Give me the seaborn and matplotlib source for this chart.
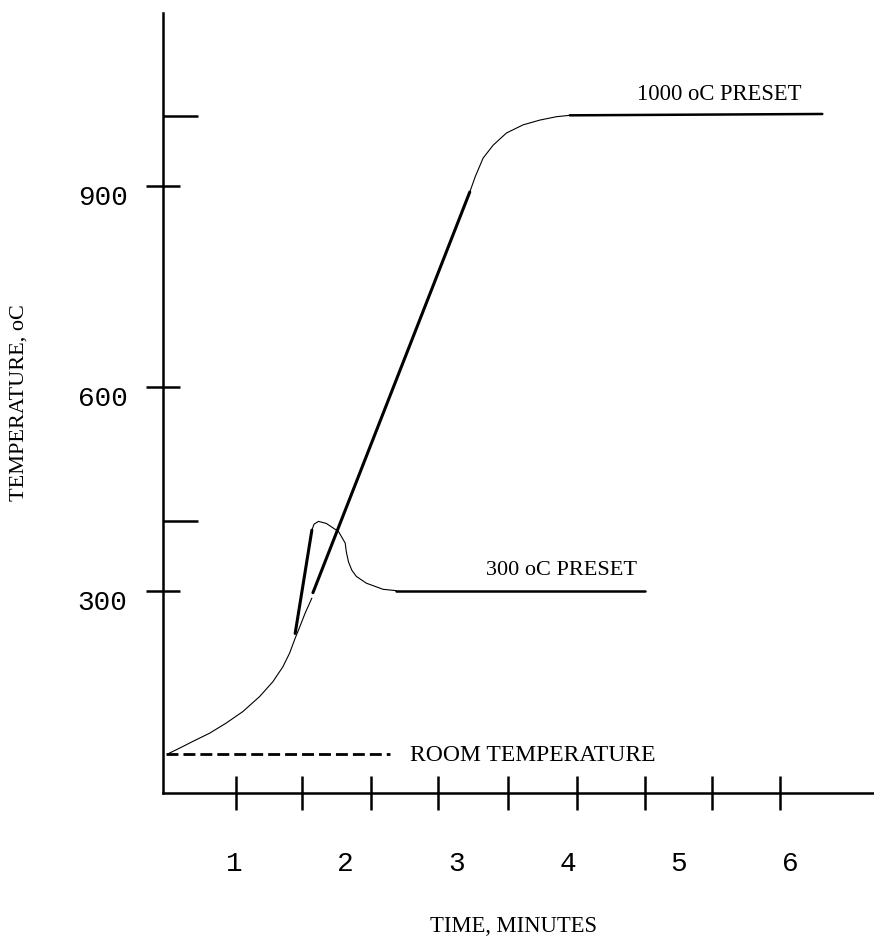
import matplotlib
matplotlib.use("Agg")
import matplotlib.pyplot as plt
import matplotlib.transforms as mtransforms
import seaborn as sns

# ---------------- data (time in minutes, temperature in oC) ----------------
warm_time = [0.41, 0.51, 0.63, 0.78, 0.93, 1.08, 1.23, 1.35, 1.44, 1.50, 1.55, 1.58, 1.64, 1.70]
warm_temp = [58, 66, 76, 88, 103, 120, 142, 164, 186, 206, 228, 240, 265, 287]

p300_rise_time = [1.55, 1.70]
p300_rise_temp = [235, 387]
p300_peak_time = [1.70, 1.72, 1.76, 1.83, 1.94, 2.00, 2.01, 2.03, 2.06, 2.10, 2.19, 2.34, 2.46]
p300_peak_temp = [387, 396, 400, 397, 385, 368, 355, 340, 328, 319, 309, 300, 298]
p300_hold_time = [2.46, 4.70]
p300_hold_temp = [298, 298]

p1000_ramp_time = [1.71, 3.12]
p1000_ramp_temp = [295, 885]
p1000_knee_time = [3.12, 3.17, 3.24, 3.33, 3.45, 3.60, 3.75, 3.90, 4.02]
p1000_knee_temp = [885, 908, 935, 954, 972, 984, 991, 996, 998]
p1000_hold_time = [4.02, 6.29]
p1000_hold_temp = [998, 1000]

room_time = [0.39, 2.40]
room_temp = [57, 57]

x_tick_marks = [1.02, 1.61, 2.23, 2.83, 3.46, 4.08, 4.70, 5.30, 5.91]
x_label_pos = [1, 2, 3, 4, 5, 6]
x_tick_labels = ["1", "2", "3", "4", "5", "6"]
y_tick_marks_cross = [298, 598, 894]
y_tick_labels = ["300", "600", "900"]
y_tick_marks_inner = [401, 997]

# ---------------- figure ----------------
sns.set_theme(style="white")
plt.rcParams["font.family"] = ["Liberation Serif", "DejaVu Serif"]
plt.rcParams["text.color"] = "black"
plt.rcParams["axes.labelcolor"] = "black"
plt.rcParams["xtick.color"] = "black"
plt.rcParams["ytick.color"] = "black"

fig = plt.figure(figsize=(8.74, 9.36), dpi=100)
ax = fig.add_axes([163 / 874, 1 - 793 / 936, 1 - 163 / 874, (793 - 13) / 936])

thin = 0.8
heavy = 2.2

def seg(x, y, lw, **kw):
    sns.lineplot(x=x, y=y, ax=ax, color="black", linewidth=lw, sort=False,
                 estimator=None, **kw)

seg(warm_time, warm_temp, thin)
seg(p300_rise_time, p300_rise_temp, heavy)
seg(p300_peak_time, p300_peak_temp, thin)
seg(p300_hold_time, p300_hold_temp, 1.8)
seg(p1000_ramp_time, p1000_ramp_temp, heavy)
seg(p1000_knee_time, p1000_knee_temp, thin)
seg(p1000_hold_time, p1000_hold_temp, 1.8)
ax.plot(room_time, room_temp, color="black", linewidth=2.0,
        linestyle=(0, (4.3, 1.8)))

ax.set_xlim(0.3615, 6.755)
ax.set_ylim(0, 1148.7)

# spines
for s in ["top", "right"]:
    ax.spines[s].set_visible(False)
for s in ["left", "bottom"]:
    ax.spines[s].set_color("black")
    ax.spines[s].set_linewidth(1.8)

# x ticks: labels at whole minutes, marks at drawn positions
ax.set_xticks(x_label_pos)
ax.set_xticklabels(x_tick_labels, family=["Liberation Mono", "DejaVu Sans Mono"],
                   fontsize=20, color="black")
ax.set_xticks(x_tick_marks, minor=True)
ax.tick_params(axis="x", which="major", length=0, pad=42, bottom=True)
ax.tick_params(axis="x", which="minor", direction="inout", length=24.5,
               width=1.8, color="black", bottom=True)

# y ticks
ax.set_yticks(y_tick_marks_cross)
ax.set_yticklabels(y_tick_labels, family=["Liberation Mono", "DejaVu Sans Mono"],
                   fontsize=20, color="black")
ax.set_yticks(y_tick_marks_inner, minor=True)
ax.tick_params(axis="y", which="major", direction="inout", length=25,
               width=1.8, color="black", pad=13, left=True)
ax.tick_params(axis="y", which="minor", direction="in", length=25,
               width=1.8, color="black", left=True)
off = mtransforms.ScaledTranslation(0, -9 / 100, fig.dpi_scale_trans)
for lab in ax.get_yticklabels():
    lab.set_transform(lab.get_transform() + off)

# axis labels
ax.set_xlabel("TIME, MINUTES", fontsize=16.3, color="black")
ax.xaxis.set_label_coords((514 - 163) / 711, (793 - 932) / 780)
ax.xaxis.label.set_va("baseline")
ax.set_ylabel("TEMPERATURE, oC", fontsize=16, color="black")
ax.yaxis.set_label_coords((19.5 - 163) / 711, (793 - 403) / 780)
ax.yaxis.label.set_va("center")

# annotations
ax.text(4.62, 1021, "1000 oC PRESET", fontsize=16.3, va="baseline", ha="left", color="black")
ax.text(3.266, 321, "300 oC PRESET", fontsize=16, va="baseline", ha="left", color="black")
ax.text(2.583, 47, "ROOM TEMPERATURE", fontsize=17, va="baseline", ha="left", color="black")

fig.savefig("out.png", dpi=100)
